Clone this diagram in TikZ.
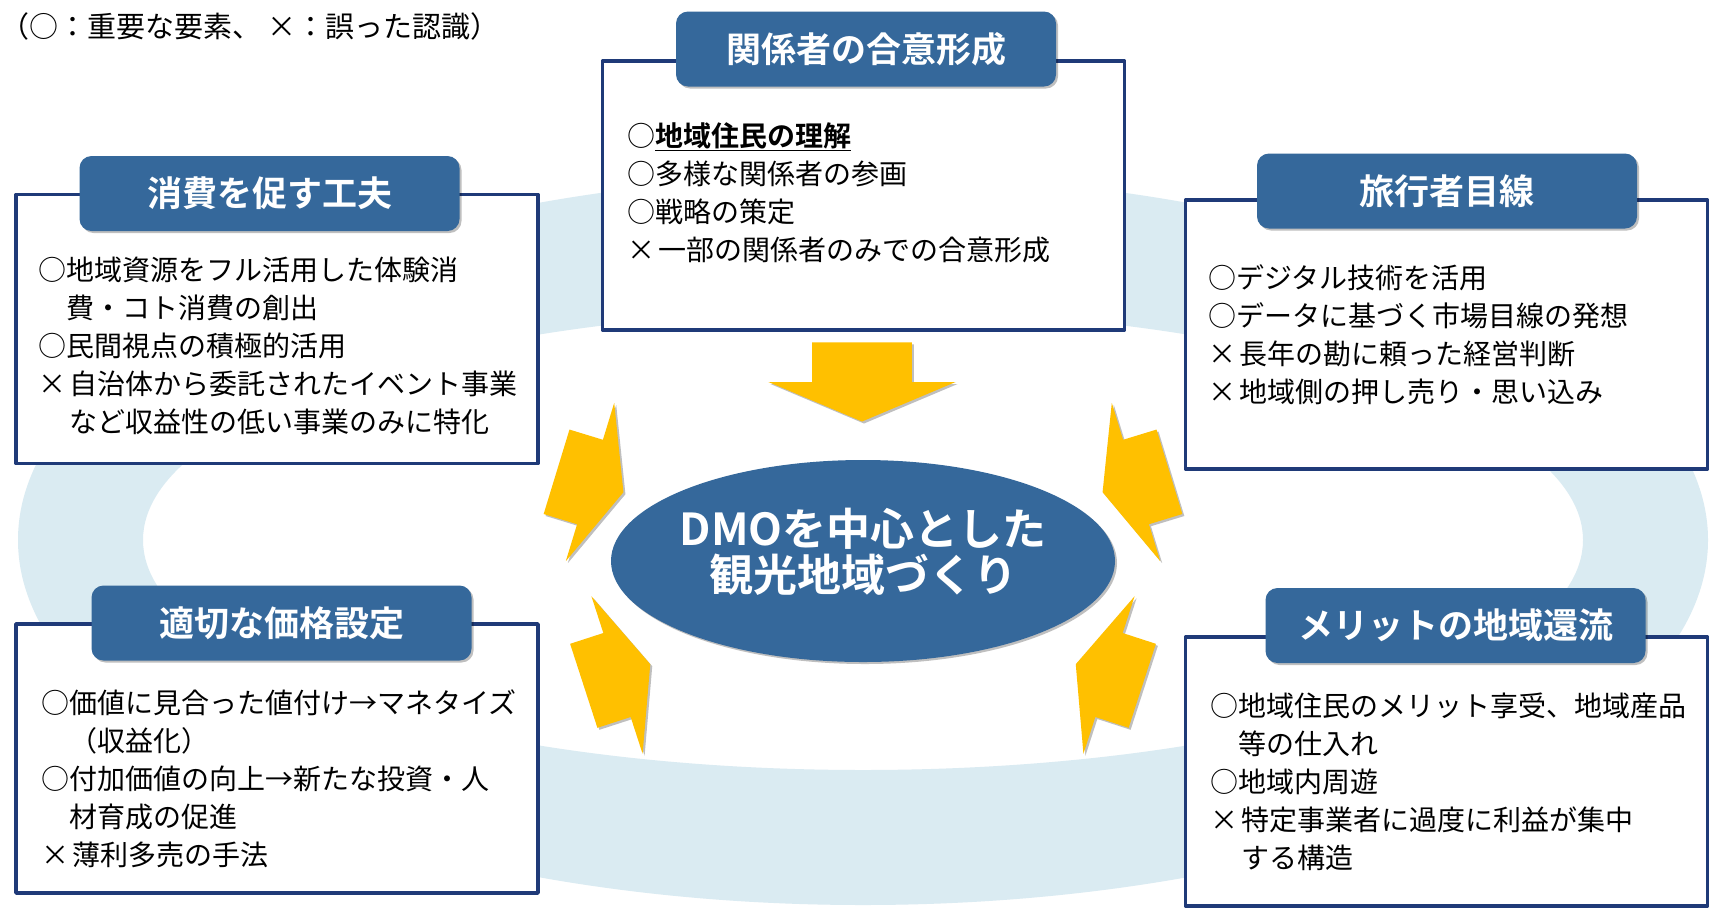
\documentclass[tikz,border=0pt]{standalone}
\usepackage{fontspec}
\setmainfont{Noto Sans CJK JP}[BoldFont={Noto Sans CJK JP Bold}]
\usetikzlibrary{shapes.geometric,shadows}
\definecolor{ringblue}{HTML}{DAEBF2}
\definecolor{tabblue}{HTML}{35689B}
\definecolor{navy}{HTML}{1F3A78}
\definecolor{arrowyellow}{HTML}{FFC000}
\newcommand{\maru}{\makebox[1em][l]{○}}
\newcommand{\batsu}{\makebox[1.1em][l]{×}}
\newcommand{\yarrow}[4]{\fill[arrowyellow, softshadow, shift={(#1,#2)}, rotate=#3, scale=#4]
  (-38,-48) -- (0,-48) -- (0,-90) -- (38,0) -- (0,90) -- (0,48) -- (-38,48) -- cycle;}
\begin{document}
\begin{tikzpicture}[x=1pt, y=-1pt, line join=round, font=\fontsize{28}{34}\selectfont]
  \tikzset{softshadow/.style={drop shadow={shadow xshift=2pt, shadow yshift=-2pt, opacity=0.25, fill=black}},
    itembox/.style={draw=navy, line width=3.5pt, fill=white, inner sep=0pt, minimum width=522pt, minimum height=269pt},
    titletab/.style={fill=tabblue, rounded corners=12pt, text=white, inner sep=0pt, minimum width=380pt, minimum height=75pt,
      font=\fontsize{35}{40}\selectfont\bfseries, softshadow},
    itemtext/.style={anchor=base west, inner sep=0pt}}
  \useasboundingbox (0,0) rectangle (1710,914);
  \fill[white] (0,0) rectangle (1710,914);
  \clip (0,0) rectangle (1710,914);
  \fill[ringblue, even odd rule] (863,540) ellipse (845 and 365) (863,540) ellipse (720 and 230);
  \node[itemtext, font=\fontsize{29}{32}\selectfont] (hanrei) at (0,37) {（○：重要な要素、 ×：誤った認識）};
  \yarrow{862}{382}{-90}{1.04}
  \yarrow{590}{482}{-17}{0.92}
  \yarrow{1136}{482}{197}{0.92}
  \yarrow{617}{675}{18}{0.92}
  \yarrow{1109}{675}{162}{0.92}
  \node[ellipse, fill=tabblue, inner sep=0pt, minimum width=504pt, minimum height=202pt, softshadow] (dmo) at (863,561) {};
  \node[text=white, align=center, font=\fontsize{44}{46}\selectfont\bfseries] (dmo-text) at (863,552) {DMOを中心とした\\観光地域づくり};
  \node[itembox] (goui) at (863.5,195.5) {};
  \node[titletab] (goui-title) at (866,49) {関係者の合意形成};
  \foreach \t [count=\i from 0] in {\maru\underline{\textbf{地域住民の理解}}, \maru 多様な関係者の参画, \maru 戦略の策定,
    \batsu 一部の関係者のみでの合意形成}
    \node[itemtext] (goui-\i) at (627,146+38*\i) {\t};
  \node[itembox] (shohi) at (277,329) {};
  \node[titletab] (shohi-title) at (269.5,193.5) {消費を促す工夫};
  \foreach \t [count=\i from 0] in {\maru 地域資源をフル活用した体験消, \hspace{1em}費・コト消費の創出, \maru 民間視点の積極的活用,
    \batsu 自治体から委託されたイベント事業, \hspace{1.1em}など収益性の低い事業のみに特化}
    \node[itemtext] (shohi-\i) at (38,280+38*\i) {\t};
  \node[itembox] (ryoko) at (1446.5,334.5) {};
  \node[titletab] (ryoko-title) at (1447,191) {旅行者目線};
  \foreach \t [count=\i from 0] in {\maru デジタル技術を活用, \maru データに基づく市場目線の発想, \batsu 長年の勘に頼った経営判断,
    \batsu 地域側の押し売り・思い込み}
    \node[itemtext] (ryoko-\i) at (1208,288+38*\i) {\t};
  \node[itembox] (kakaku) at (277,758.5) {};
  \node[titletab] (kakaku-title) at (281.5,623) {適切な価格設定};
  \foreach \t [count=\i from 0] in {\maru 価値に見合った値付け→マネタイズ, \hspace{1em}（収益化）, \maru 付加価値の向上→新たな投資・人,
    \hspace{1em}材育成の促進, \batsu 薄利多売の手法}
    \node[itemtext] (kakaku-\i) at (41,713+38*\i) {\t};
  \node[itembox] (merit) at (1446.5,771.5) {};
  \node[titletab] (merit-title) at (1455.5,625.5) {メリットの地域還流};
  \foreach \t [count=\i from 0] in {\maru 地域住民のメリット享受、地域産品, \hspace{1em}等の仕入れ, \maru 地域内周遊,
    \batsu 特定事業者に過度に利益が集中, \hspace{1.1em}する構造}
    \node[itemtext] (merit-\i) at (1210,716+38*\i) {\t};
\end{tikzpicture}
\end{document}
